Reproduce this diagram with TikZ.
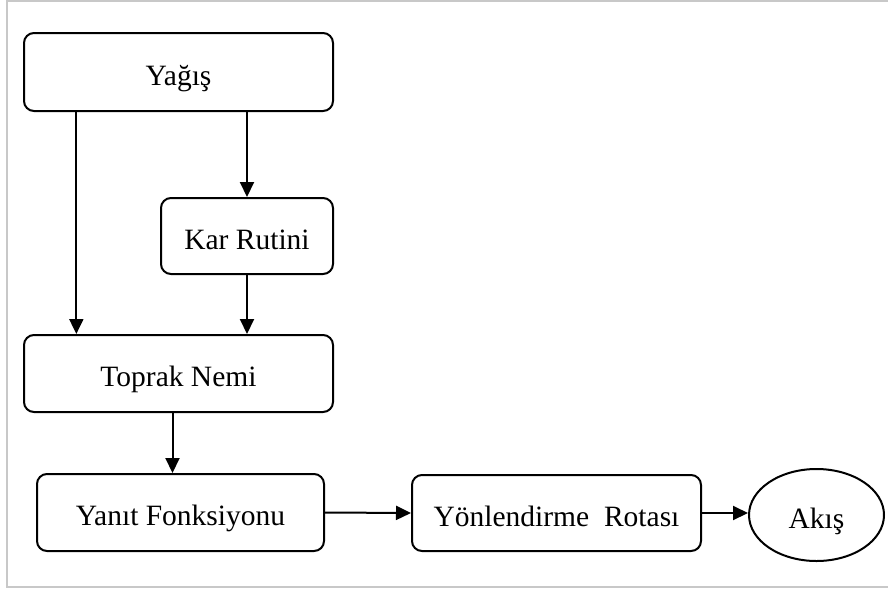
\documentclass[tikz,border=0pt]{standalone}
\usepackage{fontspec}
\setmainfont{Liberation Serif}
\usetikzlibrary{arrows.meta,shapes.geometric,calc}
\begin{document}
\begin{tikzpicture}[x=1pt,y=-1pt,
  box/.style={draw=black,line width=2pt,rounded corners=10pt,inner sep=0pt,align=center,
    text height=26pt,text depth=0pt,
    font=\fontsize{29.5}{34}\selectfont},
  oval/.style={draw=black,line width=2pt,ellipse,inner sep=0pt,
    text height=26pt,text depth=0pt,
    font=\fontsize{29.5}{34}\selectfont},
  arr/.style={draw=black,line width=2pt,-{Triangle[length=15pt,width=14pt]}},
  frame/.style={draw={rgb,255:red,200;green,200;blue,200},line width=2pt}]
\useasboundingbox (0,0) rectangle (888,592);
\draw[frame] (890,1) -- (7,1) -- (7,587) -- (890,587);
\node[box,minimum width=309pt,minimum height=78pt] (yagis) at (178.5,72) {Yağış};
\node[box,minimum width=172pt,minimum height=76pt] (kar) at (247,236) {Kar Rutini};
\node[box,minimum width=309pt,minimum height=77pt] (toprak) at (178.5,373.5) {Toprak Nemi};
\node[box,minimum width=287pt,minimum height=77pt] (yanit) at (180.5,512.5) {Yanıt Fonksiyonu};
\node[box,minimum width=289pt,minimum height=76pt] (yon) at (556.5,513) {Yönlendirme~ Rotası};
\node[oval,minimum width=135pt,minimum height=92pt] (akis) at (816.5,515) {Akış};
\draw[arr] ($(yagis.south west)!0.1715!(yagis.south east)$) -- ($(toprak.north west)!0.1715!(toprak.north east)$);
\draw[arr] (yagis.south -| kar.north) -- (kar.north);
\draw[arr] (kar.south) -- (kar.south |- toprak.north);
\draw[arr] ([xshift=-6pt]toprak.south) -- ([xshift=-6pt]toprak.south |- yanit.north);
\draw[arr] (yanit.east) -- (yon.west);
\draw[arr] (yon.east) -- (yon.east -| akis.west);
\end{tikzpicture}
\end{document}
